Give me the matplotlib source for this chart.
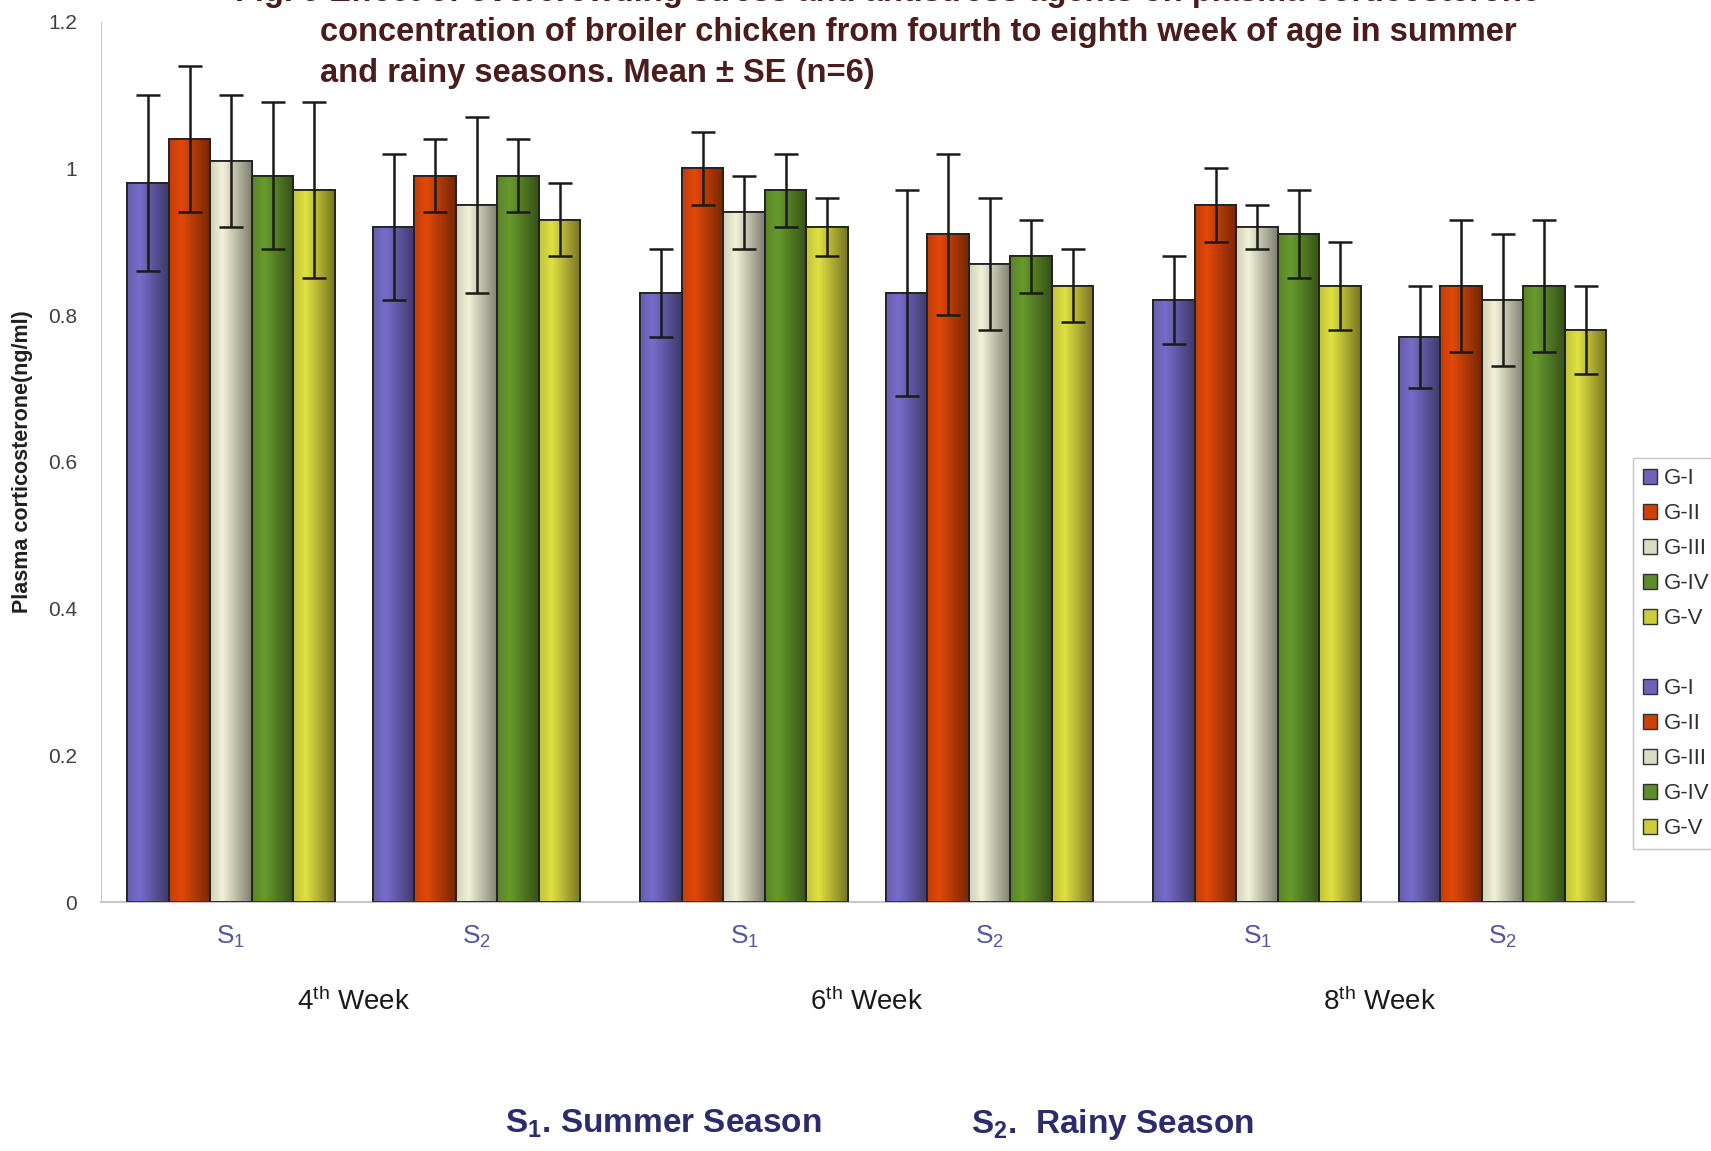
import numpy as np
import matplotlib.pyplot as plt
import matplotlib.colors as mcolors
from matplotlib.patches import Patch

plt.rcParams['font.family'] = ['Liberation Sans', 'DejaVu Sans']
plt.rcParams['mathtext.default'] = 'regular'

# data
groups = ['G-I', 'G-II', 'G-III', 'G-IV', 'G-V']
weeks = ['4', '6', '8']
seasons = ['1', '2']

# order: 4th S1, 4th S2, 6th S1, 6th S2, 8th S1, 8th S2
g1 = [0.98, 0.92, 0.83, 0.83, 0.82, 0.77]
g2 = [1.04, 0.99, 1.00, 0.91, 0.95, 0.84]
g3 = [1.01, 0.95, 0.94, 0.87, 0.92, 0.82]
g4 = [0.99, 0.99, 0.97, 0.88, 0.91, 0.84]
g5 = [0.97, 0.93, 0.92, 0.84, 0.84, 0.78]

e1 = [0.12, 0.10, 0.06, 0.14, 0.06, 0.07]
e2 = [0.10, 0.05, 0.05, 0.11, 0.05, 0.09]
e3 = [0.09, 0.12, 0.05, 0.09, 0.03, 0.09]
e4 = [0.10, 0.05, 0.05, 0.05, 0.06, 0.09]
e5 = [0.12, 0.05, 0.04, 0.05, 0.06, 0.06]

means = [g1, g2, g3, g4, g5]
errs = [e1, e2, e3, e4, e5]
colors = ['#6c63b8', '#cc4208', '#dcdcc4', '#5e8c28', '#cccc3c']

week_gap = 2.09
pos = np.array([w * week_gap + s for w in range(3) for s in range(2)])
bw = 0.169

fig = plt.figure(figsize=(17.11, 11.51), dpi=100)
ax = fig.add_axes([0.059, 0.2163, 0.896, 0.765])

for i in range(5):
    xs = pos + (i - 2) * bw
    bars = ax.bar(xs, means[i], width=bw, color=colors[i],
                  edgecolor='#222222', linewidth=1.3, zorder=2)
    base = np.array(mcolors.to_rgb(colors[i]))
    t = np.linspace(0, 1, 60)
    shade = np.where(t < 0.3, 0.95 + 0.5 * t, 1.1 - 0.75 * (t - 0.3))
    grad = np.clip(base[None, :] * shade[:, None], 0, 1)[None, :, :]
    for b in bars:
        im = ax.imshow(grad, extent=[b.get_x(), b.get_x() + b.get_width(), 0, b.get_height()],
                       aspect='auto', zorder=2.5, interpolation='bilinear')
        im.set_clip_path(b)
        ax.add_patch(plt.Rectangle((b.get_x(), 0), b.get_width(), b.get_height(),
                                   fill=False, edgecolor='#222222', linewidth=1.3, zorder=2.6))
    ax.errorbar(xs, means[i], yerr=errs[i], fmt='none', ecolor='#1a1a1a',
                elinewidth=1.8, capsize=8.5, capthick=1.8, zorder=3)

ax.set_xlim(-0.53, 5.715)
ax.set_ylim(0, 1.2)
ax.set_yticks([0, 0.2, 0.4, 0.6, 0.8, 1.0, 1.2])
ax.set_yticklabels(['0', '0.2', '0.4', '0.6', '0.8', '1', '1.2'])
ax.tick_params(axis='y', length=0, labelsize=15, labelcolor='#404040', pad=17)
ax.set_xticks(pos)
ax.set_xticklabels(['$S_{%s}$' % s for w in weeks for s in seasons])
ax.tick_params(axis='x', length=0, labelsize=19, labelcolor='#5656a0', pad=16)
for sp in ['top', 'right']:
    ax.spines[sp].set_visible(False)
ax.spines['left'].set_color('#c8c8c8')
ax.spines['bottom'].set_color('#c8c8c8')
ax.spines['bottom'].set_linewidth(1.5)

ax.set_ylabel('Plasma corticosterone(ng/ml)', fontsize=15.5, fontweight='bold',
              color='#202020', labelpad=11)

for w, wk in enumerate(weeks):
    xc = (pos[2 * w] + pos[2 * w + 1]) / 2
    ax.text(xc, -0.113, '$%s^{th}$ Week' % wk, ha='center', va='center',
            fontsize=20, color='#1a1a1a', transform=ax.get_xaxis_transform())

# title (first line partly cut off at the top edge, as in the source)
tcol = '#4a1c1c'
tx = 320 / 1711
fig.text(tx, 1.0066, 'Fig. 9', ha='right', va='center', fontsize=23.5,
         fontweight='bold', color=tcol)
fig.text(tx, 1.0066, ' Effect of overcrowding stress and antistress agents on plasma corticosterone',
         ha='left', va='center', fontsize=23.5, fontweight='bold', color=tcol)
fig.text(tx, 1 - 32.7 / 1151, 'concentration of broiler chicken from fourth to eighth week of age in summer',
         ha='left', va='center', fontsize=23.5, fontweight='bold', color=tcol)
fig.text(tx, 1 - 73.1 / 1151, 'and rainy seasons. Mean \u00b1 SE (n=6)',
         ha='left', va='center', fontsize=23.5, fontweight='bold', color=tcol)

# season key at the bottom
fig.text(505 / 1711, 1 - 1124 / 1151, '$S_{1}$. Summer Season', ha='left', va='center',
         fontsize=24, fontweight='bold', color='#2c2c6c')
fig.text(971 / 1711, 1 - 1124 / 1151, '$S_{2}$.  Rainy Season', ha='left', va='center',
         fontsize=24, fontweight='bold', color='#2c2c6c')

handles = [Patch(facecolor=c, edgecolor='#303030') for c in colors]
blank = Patch(facecolor='none', edgecolor='none')
leg = fig.legend(handles + [blank] + handles, groups + [''] + groups,
                 loc='upper left', bbox_to_anchor=(1633 / 1711, 1 - 458 / 1151),
                 bbox_transform=fig.transFigure, fontsize=16, frameon=True,
                 handlelength=0.65, handleheight=0.65, handletextpad=0.3,
                 labelspacing=0.63, borderpad=0.45, borderaxespad=0, fancybox=False)
leg.get_frame().set_edgecolor('#b8b8b8')
for txt in leg.get_texts():
    txt.set_color('#303030')

fig.savefig('out.png', dpi=100)
